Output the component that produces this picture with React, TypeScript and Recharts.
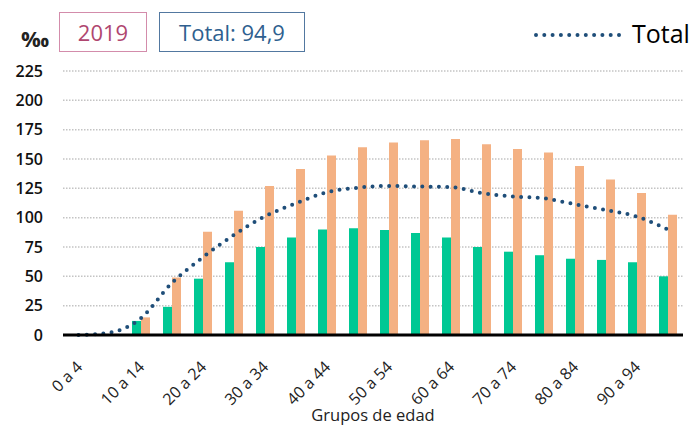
import { ComposedChart, Bar, Line, XAxis, YAxis, CartesianGrid } from 'recharts';

const ageGroups = [
  '0 a 4', '5 a 9', '10 a 14', '15 a 19', '20 a 24', '25 a 29', '30 a 34', '35 a 39', '40 a 44', '45 a 49',
  '50 a 54', '55 a 59', '60 a 64', '65 a 69', '70 a 74', '75 a 79', '80 a 84', '85 a 89', '90 a 94', '95 a 99',
];
const greenValues = [0, 0.5, 12, 24, 48, 62, 75, 83, 90, 91, 89.5, 87, 83, 75, 71, 68, 65, 64, 62, 50];
const orangeValues = [0, 1, 15, 49, 88, 106, 127, 141.5, 153, 160, 164, 166, 167, 162.5, 158.5, 155.5, 144, 132.5, 121, 102.5];
const totalValues = [0, 2, 14, 44, 66, 85, 101, 112, 121.5, 125.5, 127, 126.5, 126, 121, 118, 116.5, 111.5, 106.5, 101, 90];
const yTicks = [0, 25, 50, 75, 100, 125, 150, 175, 200, 225];

const data = ageGroups.map((g, i) => ({
  grupo: g,
  verde: greenValues[i],
  naranja: orangeValues[i],
  total: totalValues[i],
}));

const FONT = '"Open Sans", "Noto Sans", sans-serif';

// rotated category labels, anchored at their end
function AgeTick(props: any) {
  const { x, y, payload } = props;
  const ax = x + 5;
  const ay = y + 25;
  return (
    <text
      x={ax}
      y={ay}
      transform={`rotate(-45 ${ax} ${ay})`}
      textAnchor="end"
      fontSize={16}
      fontFamily={FONT}
      fill="#222"
    >
      {payload.value}
    </text>
  );
}

export default function App() {
  return (
    <div style={{ position: 'absolute', left: 0, top: 0, width: 698, height: 428, background: '#fff', fontFamily: FONT }}>
      {/* header */}
      <div style={{ position: 'absolute', left: 21, top: 23, fontSize: 22, fontWeight: 700, color: '#222' }}>‰</div>
      <div
        style={{
          position: 'absolute', left: 59, top: 12, width: 86, height: 38,
          border: '1.5px solid #d38cab', color: '#b0466f', fontSize: 22,
          display: 'flex', alignItems: 'center', justifyContent: 'center',
        }}
      >
        2019
      </div>
      <div
        style={{
          position: 'absolute', left: 159, top: 12, width: 144, height: 38,
          border: '1.5px solid #5278a0', color: '#2f5f8f', fontSize: 22,
          display: 'flex', alignItems: 'center', justifyContent: 'center',
        }}
      >
        Total: 94,9
      </div>
      {/* legend */}
      <svg style={{ position: 'absolute', left: 530, top: 28 }} width={100} height={14}>
        <line x1={6} y1={7} x2={94} y2={7} stroke="#1f4e79" strokeWidth={4} strokeLinecap="round" strokeDasharray="0 8.3" />
      </svg>
      <div style={{ position: 'absolute', left: 632, top: 16, fontSize: 25, color: '#000' }}>Total</div>

      <ComposedChart
        width={698}
        height={428}
        data={data}
        margin={{ top: 71, right: 15, bottom: 0, left: 0 }}
        barGap={0}
        barSize={9}
      >
        <CartesianGrid horizontal vertical={false} stroke="#c4c4c4" strokeWidth={1.5} strokeDasharray="1.5 1.5" />
        <XAxis
          dataKey="grupo"
          interval={1}
          height={93}
          tick={<AgeTick />}
          tickLine={false}
          axisLine={{ stroke: '#000', strokeWidth: 3 }}
          label={{ value: 'Grupos de edad', position: 'insideBottom', offset: 7, fontSize: 16.5, fill: '#222', fontFamily: FONT }}
        />
        <YAxis
          width={63}
          domain={[0, 225]}
          ticks={yTicks}
          interval={0}
          axisLine={false}
          tickLine={false}
          tickMargin={14}
          tick={{ fontSize: 16, fill: '#111', fontFamily: FONT, fontWeight: 600 }}
        />
        <Bar dataKey="verde" fill="#00c894" isAnimationActive={false} />
        <Bar dataKey="naranja" fill="#f4b183" isAnimationActive={false} />
        <Line
          type="monotone"
          dataKey="total"
          stroke="#1f4e79"
          strokeWidth={4}
          strokeLinecap="round"
          strokeDasharray="0 8.3"
          dot={false}
          activeDot={false}
          isAnimationActive={false}
        />
      </ComposedChart>
    </div>
  );
}
